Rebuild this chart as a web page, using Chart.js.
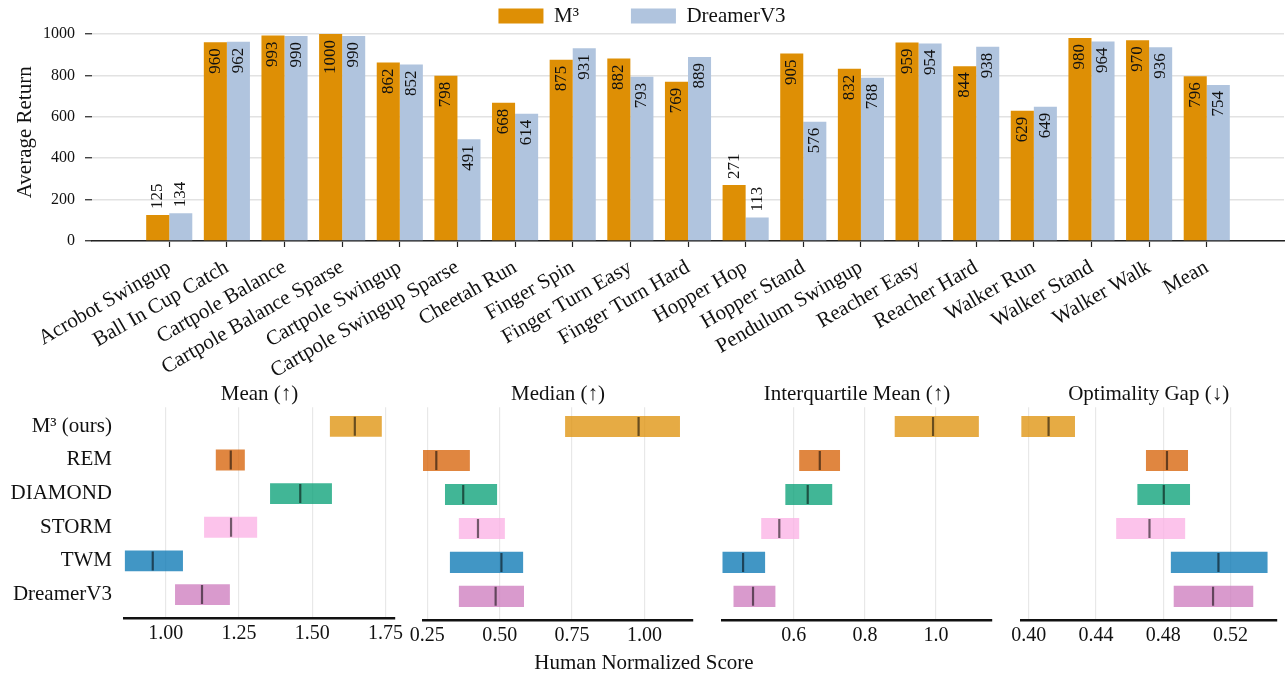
<!DOCTYPE html>
<html>
<head>
<meta charset="utf-8">
<script src="https://cdn.jsdelivr.net/npm/chart.js@4.4.1/dist/chart.umd.min.js"></script>
<style>
  html, body { margin: 0; padding: 0; background: #fff; }
  #wrap { position: relative; width: 1288px; height: 676px; overflow: hidden; }
  #wrap canvas { position: absolute; left: 0; }
  #returns { top: 0; }
  .panel { top: 380px; }
</style>
</head>
<body>
<div id="wrap">
  <canvas id="returns" width="1288" height="380"></canvas>
  <canvas id="pMean" class="panel" width="1288" height="296"></canvas>
  <canvas id="pMedian" class="panel" width="1288" height="296"></canvas>
  <canvas id="pIqm" class="panel" width="1288" height="296"></canvas>
  <canvas id="pGap" class="panel" width="1288" height="296"></canvas>
</div>
<script>
// top: per task returns
var tasks = ['Acrobot Swingup', 'Ball In Cup Catch', 'Cartpole Balance', 'Cartpole Balance Sparse',
  'Cartpole Swingup', 'Cartpole Swingup Sparse', 'Cheetah Run', 'Finger Spin', 'Finger Turn Easy',
  'Finger Turn Hard', 'Hopper Hop', 'Hopper Stand', 'Pendulum Swingup', 'Reacher Easy', 'Reacher Hard',
  'Walker Run', 'Walker Stand', 'Walker Walk', 'Mean'];
var m3Return = [125, 960, 993, 1000, 862, 798, 668, 875, 882, 769, 271, 905, 832, 959, 844, 629, 980, 970, 796];
var dreamerReturn = [134, 962, 990, 990, 852, 491, 614, 931, 793, 889, 113, 576, 788, 954, 938, 649, 964, 936, 754];
var returnTicks = [0, 200, 400, 600, 800, 1000];

// bottom: aggregate scores (interval low / high, point estimate)
var methods = ['M\u00b3 (ours)', 'REM', 'DIAMOND', 'STORM', 'TWM', 'DreamerV3'];
var methodColors = ['rgba(222,143,5,0.75)', 'rgba(213,94,0,0.75)', 'rgba(2,158,115,0.75)',
  'rgba(251,175,228,0.75)', 'rgba(1,115,178,0.75)', 'rgba(204,120,188,0.75)'];

var meanLow = [1.560, 1.171, 1.356, 1.131, 0.861, 1.032];
var meanHigh = [1.737, 1.270, 1.567, 1.312, 1.059, 1.219];
var meanPoint = [1.645, 1.222, 1.459, 1.223, 0.956, 1.124];
var meanTicks = [1.00, 1.25, 1.50, 1.75];

var medianLow = [0.726, 0.234, 0.311, 0.359, 0.328, 0.359];
var medianHigh = [1.123, 0.397, 0.491, 0.518, 0.581, 0.584];
var medianPoint = [0.980, 0.281, 0.374, 0.425, 0.506, 0.486];
var medianTicks = [0.25, 0.50, 0.75, 1.00];

var iqmLow = [0.884, 0.615, 0.576, 0.508, 0.399, 0.430];
var iqmHigh = [1.121, 0.730, 0.708, 0.615, 0.519, 0.548];
var iqmPoint = [0.992, 0.673, 0.639, 0.559, 0.457, 0.485];
var iqmTicks = [0.6, 0.8, 1.0];

var gapLow = [0.3956, 0.4697, 0.4646, 0.4520, 0.4845, 0.4862];
var gapHigh = [0.4275, 0.4947, 0.4959, 0.4930, 0.5420, 0.5335];
var gapPoint = [0.4118, 0.4822, 0.4803, 0.4718, 0.5128, 0.5096];
var gapTicks = [0.40, 0.44, 0.48, 0.52];

var serif = "'Liberation Serif', 'Times New Roman', serif";
Chart.defaults.font.family = serif;
Chart.defaults.color = '#111';

// numbers written along the bars, inside the top or just above short ones
var barValueLabels = {
  id: 'barValueLabels',
  afterDatasetsDraw: function (chart) {
    var ctx = chart.ctx;
    ctx.save();
    ctx.font = '17px ' + serif;
    ctx.fillStyle = '#111';
    ctx.textBaseline = 'middle';
    chart.data.datasets.forEach(function (ds, di) {
      chart.getDatasetMeta(di).data.forEach(function (bar, i) {
        var v = ds.data[i].y;
        var above = v < 300;
        ctx.save();
        ctx.translate(bar.x, above ? bar.y - 6 : bar.y + 6);
        ctx.rotate(-Math.PI / 2);
        ctx.textAlign = above ? 'left' : 'right';
        ctx.fillText(String(v), 0, 0);
        ctx.restore();
      });
    });
    ctx.restore();
  }
};

new Chart(document.getElementById('returns'), {
  type: 'bar',
  data: {
    datasets: [
      { label: 'M\u00b3', data: m3Return.map(function (v, i) { return { x: i, y: v }; }), backgroundColor: '#DE8F05' },
      { label: 'DreamerV3', data: dreamerReturn.map(function (v, i) { return { x: i, y: v }; }), backgroundColor: '#B0C4DE' }
    ]
  },
  options: {
    responsive: false,
    animation: false,
    layout: { padding: { top: -46, right: 4, bottom: 0, left: 0 } },
    datasets: { bar: { categoryPercentage: 0.8, barPercentage: 1.0 } },
    plugins: {
      legend: {
        position: 'top',
        maxHeight: 69.6,
        labels: { boxWidth: 45, boxHeight: 16, padding: 52, color: '#111', font: { size: 21 } }
      },
      tooltip: { enabled: false }
    },
    scales: {
      x: {
        type: 'linear',
        min: -1.34,
        max: 19.34,
        offset: false,
        afterBuildTicks: function (s) { s.ticks = tasks.map(function (t, i) { return { value: i }; }); },
        afterFit: function (s) { s.height = 139; },
        grid: { offset: false, drawOnChartArea: false, tickLength: 6, tickColor: '#222', tickWidth: 1.2 },
        border: { display: true, color: '#222', width: 1.5 },
        ticks: {
          autoSkip: false, minRotation: 30, maxRotation: 30, padding: 8,
          color: '#111', font: { size: 21 },
          callback: function (v) { return tasks[v]; }
        }
      },
      y: {
        min: 0,
        max: 1050,
        afterBuildTicks: function (s) { s.ticks = returnTicks.map(function (v) { return { value: v }; }); },
        afterFit: function (s) { s.width = 92; },
        grid: { color: '#e2e2e2', lineWidth: 1.5, tickLength: 7, tickColor: '#222', tickWidth: 1.2 },
        border: { display: false },
        ticks: { padding: 10, color: '#111', font: { size: 16 }, callback: function (v) { return String(v); } },
        title: { display: true, text: 'Average Return', color: '#111', font: { size: 21 }, padding: { top: 13, bottom: 0 } }
      }
    }
  },
  plugins: [barValueLabels]
});

function drawPanel(id, title, low, high, point, ticks, digits, xmin, xmax, left, right, first) {
  var scales = {
    x: {
      type: 'linear',
      min: xmin,
      max: xmax,
      afterBuildTicks: function (s) { s.ticks = ticks.map(function (v) { return { value: v }; }); },
      afterFit: function (s) { s.height = 29; },
      grid: { color: 'rgba(0,0,0,0.09)', lineWidth: 1.2, drawTicks: false },
      border: { display: true, color: '#111', width: 2.5 },
      ticks: { padding: 4, color: '#111', font: { size: 20 }, callback: function (v) { return v.toFixed(digits); } }
    },
    y: {
      type: 'linear',
      reverse: true,
      min: -0.568,
      max: 5.69,
      offset: false,
      display: first,
      afterBuildTicks: function (s) { s.ticks = methods.map(function (m, i) { return { value: i }; }); },
      grid: { display: false, offset: false, drawTicks: false },
      border: { display: false },
      ticks: { padding: 12, color: '#111', font: { size: 21 }, callback: function (v) { return methods[v]; } }
    }
  };
  var padding = { top: 0, left: left, right: right, bottom: 27.2 };
  var subtitle = { display: false };
  if (first) {
    scales.y.afterFit = function (s) { s.width = left; };
    scales.pad = {
      type: 'linear', position: 'right', display: true,
      grid: { display: false, drawTicks: false }, border: { display: false }, ticks: { display: false },
      afterFit: function (s) { s.width = right; }
    };
    padding = { top: 0, left: 0, right: 0, bottom: 0 };
    subtitle = { display: true, position: 'bottom', text: 'Human Normalized Score', color: '#111', font: { size: 21, weight: 'normal' }, padding: { top: 4, bottom: 0 } };
  }

  new Chart(document.getElementById(id), {
    type: 'bar',
    data: {
      datasets: [
        {
          type: 'bar',
          order: 1,
          data: low.map(function (lo, i) { return { x: [lo, high[i]], y: i }; }),
          backgroundColor: methodColors,
          barPercentage: 0.62,
          categoryPercentage: 1.0
        },
        {
          type: 'scatter',
          order: 0,
          data: point.map(function (p, i) { return { x: p, y: i }; }),
          pointStyle: 'line',
          pointRotation: 90,
          pointRadius: 9.5,
          pointBorderWidth: 2.2,
          pointBorderColor: 'rgba(0,0,0,0.55)'
        }
      ]
    },
    options: {
      responsive: false,
      animation: false,
      indexAxis: 'y',
      layout: { padding: padding },
      plugins: {
        legend: { display: false },
        tooltip: { enabled: false },
        title: { display: true, text: title, position: 'top', fullSize: false, color: '#111', font: { size: 21, weight: 'normal' }, padding: { top: 2, bottom: 0 } },
        subtitle: subtitle
      },
      scales: scales
    }
  });
}

// panel 1 keeps its own x offsets in its axes so the shared x label stays centred on the figure
drawPanel('pMean', 'Mean (\u2191)', meanLow, meanHigh, meanPoint, meanTicks, 2, 0.858, 1.782, 124, 893, true);
drawPanel('pMedian', 'Median (\u2191)', medianLow, medianHigh, medianPoint, medianTicks, 2, 0.235, 1.168, 423, 595, false);
drawPanel('pIqm', 'Interquartile Mean (\u2191)', iqmLow, iqmHigh, iqmPoint, iqmTicks, 1, 0.3976, 1.158, 722, 296, false);
drawPanel('pGap', 'Optimality Gap (\u2193)', gapLow, gapHigh, gapPoint, gapTicks, 2, 0.3954, 0.5472, 1021, 1, false);
</script>
</body>
</html>
